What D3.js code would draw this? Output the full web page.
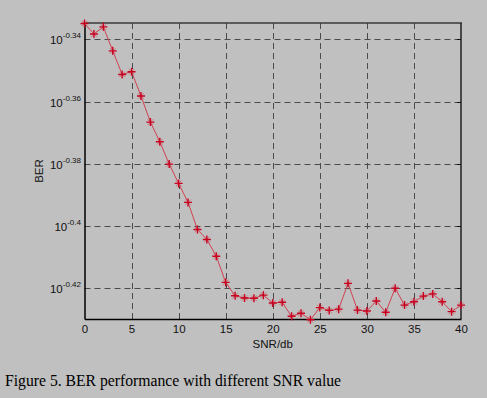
<!DOCTYPE html>
<html><head><meta charset="utf-8">
<script src="https://cdn.jsdelivr.net/npm/d3@7"></script>
<style>
html,body{margin:0;padding:0;background:#c0c0c0;}
svg{display:block;}
</style></head>
<body>
<script>
// SNR in dB (x values)
const snr = d3.range(0, 41);
// log10(BER)
const berExponent = [
 -0.3349, -0.3383, -0.3360, -0.3437, -0.3513, -0.3504, -0.3582, -0.3666, -0.3729, -0.3801,
 -0.3863, -0.3924, -0.4011, -0.4043, -0.4097, -0.4181, -0.4224, -0.4231, -0.4232, -0.4222,
 -0.4247, -0.4245, -0.4290, -0.4280, -0.4301, -0.4262, -0.4271, -0.4267, -0.4184, -0.4270,
 -0.4273, -0.4241, -0.4277, -0.4200, -0.4254, -0.4243, -0.4225, -0.4218, -0.4243, -0.4275,
 -0.4254
];
const xTicks = [0, 5, 10, 15, 20, 25, 30, 35, 40];
const yTickExponents = [-0.34, -0.36, -0.38, -0.40, -0.42];
const yTickLabels = ["-0.34", "-0.36", "-0.38", "-0.4", "-0.42"];
const xLabel = "SNR/db";
const yLabel = "BER";
const caption = "Figure 5. BER performance with different SNR value";

const W = 487, H = 398;
const m = {left: 84.5, right: 461, top: 23, bottom: 319};

const svg = d3.select("body").append("svg").attr("width", W).attr("height", H);
svg.append("rect").attr("width", W).attr("height", H).attr("fill", "#c0c0c0");

const x = d3.scaleLinear().domain([0, 40]).range([m.left, m.right]);
const y = d3.scaleLog().domain([Math.pow(10, -0.42986), Math.pow(10, -0.33476)]).range([m.bottom, m.top]);

const data = snr.map((s, i) => ({x: s, y: Math.pow(10, berExponent[i])}));

// grid
const grid = svg.append("g").attr("stroke", "#4a4a4a").attr("stroke-width", 1).attr("stroke-dasharray", "6,4").attr("fill", "none");
xTicks.filter(t => t > 0 && t < 40).forEach(t => {
  grid.append("line").attr("x1", Math.round(x(t)) + 0.5).attr("x2", Math.round(x(t)) + 0.5)
    .attr("y1", m.bottom).attr("y2", m.top);
});
yTickExponents.forEach(e => {
  const yy = Math.round(y(Math.pow(10, e))) + 0.5;
  grid.append("line").attr("x1", m.left).attr("x2", m.right).attr("y1", yy).attr("y2", yy);
});

// box: top and right
svg.append("line").attr("x1", m.left).attr("x2", m.right + 1).attr("y1", m.top).attr("y2", m.top).attr("stroke", "#3a3a3a").attr("stroke-width", 1.5);
svg.append("line").attr("x1", m.right).attr("x2", m.right).attr("y1", m.top).attr("y2", m.bottom).attr("stroke", "#222").attr("stroke-width", 1.5);

// axes
const xAxis = d3.axisBottom(x).tickValues(xTicks).tickSize(0).tickPadding(6).tickFormat(d3.format("d"));
const gx = svg.append("g").attr("transform", `translate(0,${m.bottom})`).call(xAxis);
gx.select(".domain").attr("stroke", "#000").attr("stroke-width", 1.5);
gx.selectAll("text").attr("font-family", "Liberation Sans, Arial, sans-serif").attr("font-size", 11.5).attr("fill", "#111");

const yAxis = d3.axisLeft(y).tickValues(yTickExponents.map(e => Math.pow(10, e))).tickSize(0).tickPadding(4).tickFormat(() => "");
const gy = svg.append("g").attr("transform", `translate(${m.left},0)`).call(yAxis);
gy.select(".domain").attr("stroke", "#000").attr("stroke-width", 1.5);
gy.selectAll(".tick").each(function(d, i) {
  const t = d3.select(this).select("text");
  t.text(null).attr("font-family", "Liberation Sans, Arial, sans-serif").attr("fill", "#111").attr("x", -3.5).attr("dy", "0.45em");
  t.append("tspan").attr("font-size", 11.5).text("10");
  t.append("tspan").attr("font-size", 8).attr("dy", "-0.75em").text(yTickLabels[i]);
});

// small tick marks on right edge at grid lines
yTickExponents.forEach(e => {
  const yy = Math.round(y(Math.pow(10, e))) + 0.5;
  svg.append("line").attr("x1", m.right - 4).attr("x2", m.right).attr("y1", yy).attr("y2", yy).attr("stroke", "#111");
});

// line
const line = d3.line().x(d => x(d.x)).y(d => y(d.y));
svg.append("path").datum(data).attr("d", line).attr("fill", "none").attr("stroke", "#d04050").attr("stroke-width", 1);

// asterisk markers
const mk = svg.append("g");
data.forEach(d => {
  const cx = x(d.x), cy = y(d.y), r = 4;
  const g = mk.append("g").attr("transform", `translate(${cx},${cy})`);
  g.append("path").attr("d", `M${-r*0.7},${-r*0.7}L${r*0.7},${r*0.7}M${-r*0.7},${r*0.7}L${r*0.7},${-r*0.7}`)
    .attr("stroke", "#d06070").attr("stroke-width", 1).attr("opacity", 0.8);
  g.append("path").attr("d", `M${-r},0L${r},0M0,${-r}L0,${r}`)
    .attr("stroke", "#c8001e").attr("stroke-width", 1.4);
});

// labels
svg.append("text").attr("x", (m.left + m.right) / 2).attr("y", 348).attr("text-anchor", "middle")
  .attr("font-family", "Liberation Sans, Arial, sans-serif").attr("font-size", 11.5).attr("fill", "#111").text(xLabel);
svg.append("text").attr("transform", `translate(43,171) rotate(-90)`).attr("text-anchor", "middle")
  .attr("font-family", "Liberation Sans, Arial, sans-serif").attr("font-size", 11.5).attr("fill", "#111").text(yLabel);

svg.append("text").attr("x", 5).attr("y", 386)
  .attr("font-family", "Liberation Serif, Times New Roman, serif").attr("font-size", 15.7).attr("fill", "#000").text(caption);
</script>
</body></html>
